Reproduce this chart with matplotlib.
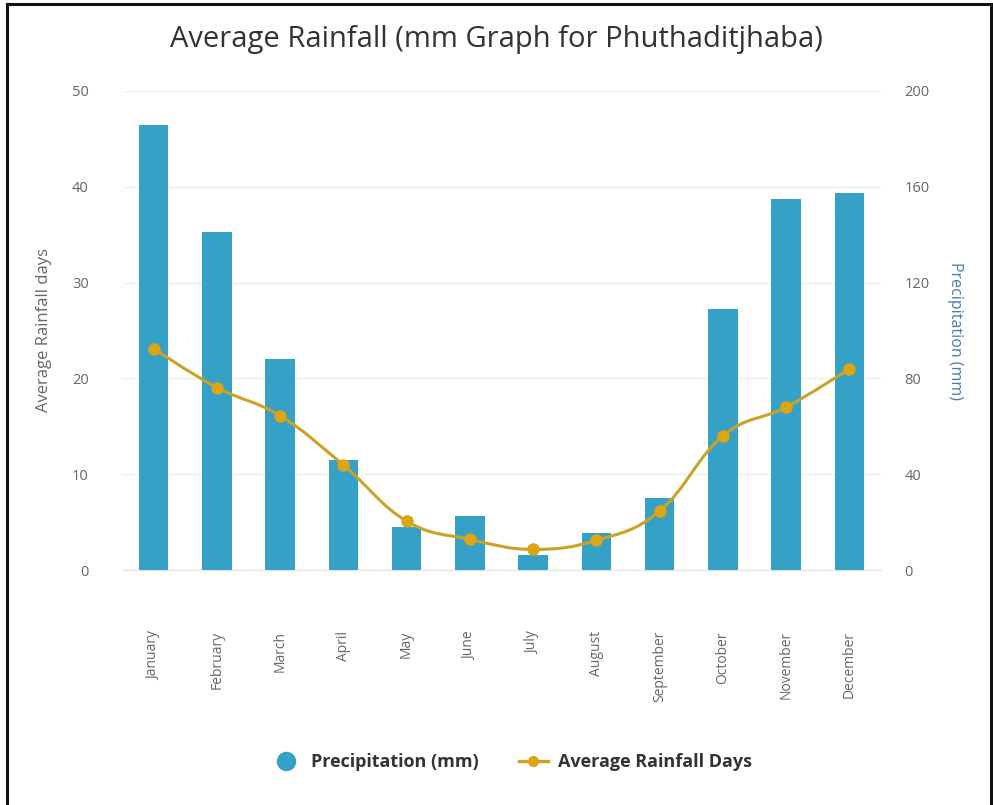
import matplotlib
matplotlib.use("Agg")
import matplotlib.pyplot as plt
from matplotlib.path import Path
from matplotlib.patches import PathPatch
from matplotlib.lines import Line2D

months = ["January", "February", "March", "April", "May", "June", "July",
          "August", "September", "October", "November", "December"]
precip_mm = [186, 141, 88, 46, 18, 22.5, 6.3, 15.6, 30, 109, 155, 157.5]
rain_days = [23.1, 19.05, 16.1, 10.95, 5.1, 3.2, 2.15, 3.1, 6.15, 14.0, 17.0, 21.0]

left_ticks = [0, 10, 20, 30, 40, 50]
right_ticks = [0, 40, 80, 120, 160, 200]

BAR = "#35a1c6"
LINE = "#c9a227"
MARK = "#dca515"
TXT = "#666666"

plt.rcParams['font.family'] = ['Open Sans', 'DejaVu Sans']

fig = plt.figure(figsize=(9.93, 8.05), dpi=100)
ax2 = fig.add_axes([122/993, 1-570/805, (881-122)/993, (570-91)/805])
ax = ax2.twinx()

x = list(range(len(months)))

# bars on right axis
ax2.bar(x, precip_mm, width=0.47, color=BAR, zorder=2)
ax2.set_ylim(0, 200)
ax2.set_yticks(right_ticks)
ax2.yaxis.tick_right()
ax2.yaxis.set_label_position("right")
ax2.grid(axis='y', color='#efefef', linewidth=1, zorder=0)
ax2.set_axisbelow(True)
ax2.set_xlim(-0.5, 11.5)
ax2.set_xticks(x)
ax2.set_xticklabels(months, rotation=90, va='top', ha='center')
ax2.tick_params(axis='x', length=0, pad=44, labelsize=10, colors=TXT)
ax2.tick_params(axis='y', length=0, pad=17, labelsize=10.5, colors=TXT)
for lbl in ax2.get_yticklabels():
    lbl.set_ha('left')
ax2.set_ylabel("Precipitation (mm)", rotation=270, color="#4a7bb0",
               fontsize=11.5, labelpad=24)

# line on left axis
ax.set_ylim(0, 50)
ax.set_xlim(-0.5, 11.5)
ax.set_yticks(left_ticks)
ax.yaxis.tick_left()
ax.yaxis.set_label_position("left")
ax.tick_params(axis='y', length=0, pad=24, labelsize=10.5, colors=TXT)
ax.set_ylabel("Average Rainfall days", color=TXT, fontsize=12, labelpad=14)
ax.set_zorder(ax2.get_zorder() + 1)
ax.patch.set_visible(False)

# Highcharts-like spline path
sm = 1.5
den = sm + 1
n = len(x)
rc = [None] * n
verts = [(x[0], rain_days[0])]
codes = [Path.MOVETO]
for i in range(1, n):
    px, py = x[i], rain_days[i]
    lcx, lcy = px, py
    if i < n - 1:
        lx, ly = x[i-1], rain_days[i-1]
        nx, ny = x[i+1], rain_days[i+1]
        lcx = (sm*px + lx)/den
        lcy = (sm*py + ly)/den
        rcx = (sm*px + nx)/den
        rcy = (sm*py + ny)/den
        corr = ((rcy - lcy)*(rcx - px))/(rcx - lcx) + py - rcy
        lcy += corr
        rcy += corr
        if lcy > ly and lcy > py:
            lcy = max(ly, py); rcy = 2*py - lcy
        elif lcy < ly and lcy < py:
            lcy = min(ly, py); rcy = 2*py - lcy
        if rcy > ny and rcy > py:
            rcy = max(ny, py); lcy = 2*py - rcy
        elif rcy < ny and rcy < py:
            rcy = min(ny, py); lcy = 2*py - rcy
        rc[i] = (rcx, rcy)
    prev = rc[i-1] if rc[i-1] is not None else (x[i-1], rain_days[i-1])
    verts += [prev, (lcx, lcy), (px, py)]
    codes += [Path.CURVE4, Path.CURVE4, Path.CURVE4]

ax.add_patch(PathPatch(Path(verts, codes), facecolor='none', edgecolor=LINE,
                       linewidth=2.2, zorder=3))
ax.plot(x, rain_days, linestyle='none', marker='o', markersize=8,
        color=MARK, zorder=4)

for a in (ax, ax2):
    for side in ('top', 'left', 'right'):
        a.spines[side].set_visible(False)
    a.spines['bottom'].set_color('#e3e3e3')
ax.spines['bottom'].set_visible(False)

fig.text(0.5, 1-40/805, "Average Rainfall (mm Graph for Phuthaditjhaba)",
         ha='center', va='center', fontsize=21, color='#333333')

handles = [
    Line2D([], [], linestyle='none', marker='o', markersize=13, color=BAR),
    Line2D([], [], color=LINE, linewidth=2.4, marker='o', markersize=7,
           markerfacecolor=MARK, markeredgecolor=MARK),
]
fig.legend(handles, ["Precipitation (mm)", "Average Rainfall Days"],
           loc='center', bbox_to_anchor=(512/993, 1-762/805), ncol=2,
           frameon=False, prop={'weight': 'bold', 'size': 13},
           labelcolor='#333333', handlelength=1.6, columnspacing=2.2,
           handletextpad=0.6)

# outer frame (left, top, right)
fig.add_artist(Line2D([7/993, 7/993], [0, 1-4/805], transform=fig.transFigure,
                      color='#111111', linewidth=2.2))
fig.add_artist(Line2D([7/993, 991/993], [1-4/805, 1-4/805], transform=fig.transFigure,
                      color='#111111', linewidth=2.2))
fig.add_artist(Line2D([991/993, 991/993], [0, 1-4/805], transform=fig.transFigure,
                      color='#111111', linewidth=2.2))

fig.savefig("out.png", dpi=100)
